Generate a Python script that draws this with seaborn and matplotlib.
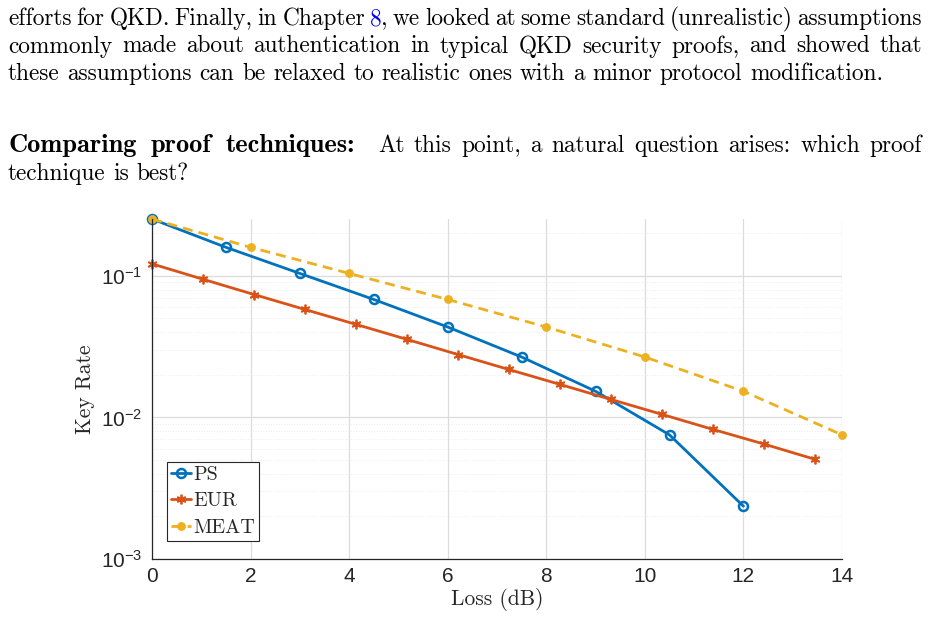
import numpy as np
import pandas as pd
import seaborn as sns
import matplotlib.pyplot as plt
import matplotlib.ticker as mticker

# key rate vs loss
ps_loss = [0, 1.5, 3, 4.5, 6, 7.5, 9, 10.5, 12]
ps_rate = [0.252, 0.159, 0.104, 0.0681, 0.0435, 0.0267, 0.0153, 0.00753, 0.00236]

eur_loss = [0, 1.035, 2.07, 3.10, 4.14, 5.17, 6.21, 7.24, 8.28, 9.31, 10.35, 11.38, 12.42, 13.45]
eur_rate = [0.1215, 0.0946, 0.0738, 0.0579, 0.0454, 0.0356, 0.0278, 0.0218, 0.0171,
            0.0134, 0.0105, 0.00823, 0.00648, 0.00506]

meat_loss = [0, 2, 4, 6, 8, 10, 12, 14]
meat_rate = [0.252, 0.159, 0.104, 0.0681, 0.0435, 0.0267, 0.0153, 0.00753]

x_ticks = [0, 2, 4, 6, 8, 10, 12, 14]
y_ticks = [1e-3, 1e-2, 1e-1]
y_tick_labels = [r'$10^{-3}$', r'$10^{-2}$', r'$10^{-1}$']

para_lines = [
    "efforts for QKD. Finally, in Chapter {8}, we looked at some standard (unrealistic) assumptions",
    "commonly made about authentication in typical QKD security proofs, and showed that",
    "these assumptions can be relaxed to realistic ones with a minor protocol modification.",
]
heading = "Comparing proof techniques:"
heading_rest = "At this point, a natural question arises: which proof"
last_line = "technique is best?"

colors = {'PS': '#0072BD', 'EUR': '#D95319', 'MEAT': '#EDB120'}
LINK = '#0000ff'

sns.set_style('white')
plt.rcParams['mathtext.fontset'] = 'custom'
plt.rcParams['mathtext.rm'] = 'Liberation Sans'
plt.rcParams['mathtext.it'] = 'Liberation Sans:italic'
plt.rcParams['mathtext.bf'] = 'Liberation Sans:bold'
plt.rcParams['axes.unicode_minus'] = True

W, H = 931, 624
fig = plt.figure(figsize=(W / 100, H / 100), dpi=100)
fig.patch.set_facecolor('white')

# ---- paragraph text above the plot ----
r = fig.canvas.get_renderer()
X0, X1 = 8, 922
HEAD_END = 355   # where the bold run-in heading stops
REST_START = 378


def text_width(s, fam, fs):
    t = fig.text(0, 0, s, family=fam, fontsize=fs)
    w = t.get_window_extent(r).width
    t.remove()
    return w


FS = 10 * 879 / text_width(para_lines[2], 'cmr10', 10)
SPACE = text_width('a a', 'cmr10', FS) - text_width('aa', 'cmr10', FS)


def pieces(word):
    if word.startswith('{'):
        inner, rest = word[1:].split('}')
        return [(inner, LINK), (rest, 'black')]
    return [(word, 'black')]


def spread(line, ybase, x0, x1, fam='cmr10', fs=None, justify=True):
    fs = fs or FS
    groups = []
    for word in line.split(' '):
        g = []
        for s, c in pieces(word):
            if not s:
                continue
            t = fig.text(0, 0, s, family=fam, color=c, fontsize=fs, va='baseline')
            g.append((t, t.get_window_extent(r).width))
        groups.append(g)
    widths = [sum(w for _, w in g) for g in groups]
    gap = (x1 - x0 - sum(widths)) / (len(groups) - 1) if justify else SPACE
    x = x0
    for g in groups:
        for t, w in g:
            t.set_position((x / W, 1 - ybase / H))
            x += w
        x += gap


spread(para_lines[0], 25, X0, X1)
spread(para_lines[1], 52.5, X0, X1)
spread(para_lines[2], 80, X0, X1, justify=False)
spread(heading, 152, X0, HEAD_END, fam='cmb10', fs=FS * 1.13)
spread(heading_rest, 152, REST_START, X1)
spread(last_line, 180, X0, X1, justify=False)

# ---- chart ----
ax = fig.add_axes([152 / W, 1 - 559 / H, (842 - 152) / W, (559 - 219) / H])

line_kw = dict(ax=ax, linewidth=2, estimator=None, sort=False, clip_on=False)
sns.lineplot(x=ps_loss, y=ps_rate, color=colors['PS'], marker='o', markersize=6.5,
             markerfacecolor='none', markeredgecolor=colors['PS'], markeredgewidth=1.8,
             label='PS', **line_kw)
sns.lineplot(x=eur_loss, y=eur_rate, color=colors['EUR'], marker=(6, 2, 0), markersize=7,
             markeredgecolor=colors['EUR'], markeredgewidth=1.3, label='EUR', **line_kw)
sns.lineplot(x=meat_loss, y=meat_rate, color=colors['MEAT'], marker='o', markersize=5.8,
             markerfacecolor=colors['MEAT'], markeredgecolor=colors['MEAT'], markeredgewidth=0.5,
             linestyle=(0, (3.6, 2.2)), label='MEAT', **line_kw)

ax.set_yscale('log')
ax.set_xlim(0, 14)
ax.set_ylim(1e-3, 0.252)

ax.xaxis.set_major_locator(mticker.FixedLocator(x_ticks))
ax.xaxis.set_major_formatter(mticker.FixedFormatter([str(v) for v in x_ticks]))
ax.yaxis.set_major_locator(mticker.FixedLocator(y_ticks))
ax.yaxis.set_major_formatter(mticker.FixedFormatter(y_tick_labels))
ax.yaxis.set_minor_locator(mticker.LogLocator(base=10, subs=np.arange(2, 10), numticks=20))
ax.yaxis.set_minor_formatter(mticker.NullFormatter())

ax.grid(True, which='major', color='#dcdcdc', linewidth=0.9)
ax.grid(True, which='minor', axis='y', color='#ececec', linewidth=0.7, linestyle=':')
ax.set_axisbelow(True)

for side in ['top', 'right']:
    ax.spines[side].set_visible(False)
for side in ['left', 'bottom']:
    ax.spines[side].set_color('#262626')
    ax.spines[side].set_linewidth(0.9)

ax.tick_params(which='both', direction='in', colors='#262626', labelcolor='#262626',
               labelfontfamily='Liberation Sans')
ax.tick_params(which='major', length=5, width=0.8, labelsize=15)
ax.tick_params(which='minor', length=3, width=0.7)
ax.tick_params(axis='y', which='major', pad=7)
ax.tick_params(axis='x', which='major', pad=6)

ax.set_xlabel('Loss (dB)', family='cmr10', fontsize=15.5, color='#262626')
ax.set_ylabel('Key Rate', family='cmr10', fontsize=15.5, color='#262626')
ax.xaxis.set_label_coords(0.5, -0.085)
ax.yaxis.set_label_coords(-0.083, 0.5)

leg = ax.legend(loc='lower left', bbox_to_anchor=(0.0213, 0.053), borderaxespad=0,
                prop={'family': 'cmr10', 'size': 14.5}, handlelength=1.0, handletextpad=0.1,
                labelspacing=0.42, borderpad=0.2, fancybox=False, framealpha=1,
                edgecolor='#262626', numpoints=1)
leg.get_frame().set_linewidth(0.8)
for txt in leg.get_texts():
    txt.set_color('#262626')

fig.savefig('out.png', dpi=100, facecolor='white')
